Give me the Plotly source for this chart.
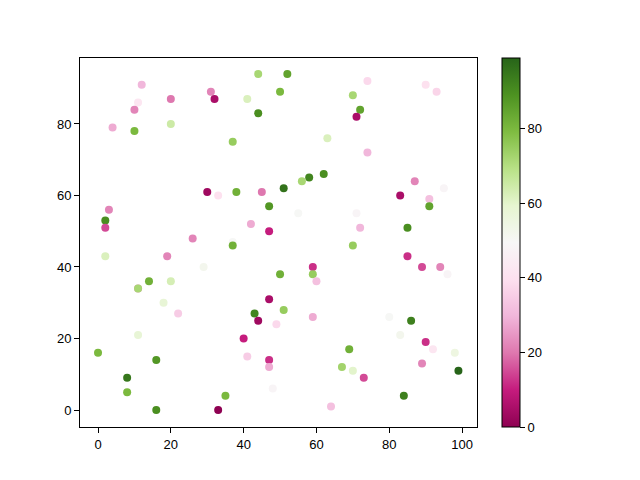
import plotly.graph_objects as go

x_vals = [44, 52, 12, 31, 50, 11, 20, 32, 41, 10, 44, 4, 10, 20, 37, 30, 33, 38, 45, 51,
          47, 3, 2, 2, 42, 47, 26, 37, 37, 2, 19, 29, 50, 14, 20, 11, 11, 47, 18, 22,
          43, 44, 49, 11, 40, 0, 41, 16, 47, 47, 8, 48, 8, 35, 16, 33, 74, 90, 93, 70,
          72, 71, 63, 74, 62, 58, 56, 87, 95, 83, 91, 91, 55, 71, 72, 85, 70, 85, 59, 89,
          94, 96, 59, 60, 51, 59, 80, 86, 83, 90, 92, 98, 69, 67, 70, 89, 99, 73, 84, 64]
y_vals = [94, 94, 91, 89, 89, 86, 87, 87, 87, 84, 83, 79, 78, 80, 75, 61, 60, 61, 61, 62,
          57, 56, 53, 51, 52, 50, 48, 47, 46, 43, 43, 40, 38, 36, 36, 34, 34, 31, 30, 27,
          27, 25, 24, 21, 20, 16, 15, 14, 14, 12, 9, 6, 5, 4, 0, 0, 92, 91, 89, 88,
          84, 82, 76, 72, 66, 65, 64, 64, 62, 60, 59, 57, 55, 55, 51, 51, 46, 43, 40, 40,
          40, 38, 38, 36, 28, 26, 26, 25, 21, 19, 17, 16, 17, 12, 11, 13, 11, 9, 4, 1]
c_vals = [72, 85, 30, 22, 80, 42, 20, 5, 62, 22, 90, 28, 80, 65, 75, 3, 40, 82, 20, 96,
          88, 22, 90, 15, 28, 10, 22, 50, 82, 62, 22, 52, 82, 82, 63, 25, 72, 5, 58, 35,
          92, 3, 38, 58, 10, 80, 35, 88, 12, 28, 95, 48, 80, 80, 90, 0, 38, 40, 37, 72,
          85, 5, 62, 30, 90, 92, 72, 22, 48, 5, 32, 85, 50, 48, 30, 90, 75, 12, 12, 15,
          22, 48, 75, 32, 75, 28, 50, 93, 52, 12, 42, 55, 82, 73, 60, 22, 99, 15, 93, 32]

x_ticks = [0, 20, 40, 60, 80, 100]
y_ticks = [0, 20, 40, 60, 80]
cb_ticks = [0, 20, 40, 60, 80]

fig = go.Figure(go.Scatter(
    x=x_vals, y=y_vals, mode="markers",
    marker=dict(
        size=8, color=c_vals, colorscale="PiYG",
        cmin=min(c_vals), cmax=max(c_vals),
        line=dict(width=0),
        colorbar=dict(
            tickvals=cb_ticks, ticks="outside", ticklen=5, tickcolor="black",
            thickness=18, len=1.0, lenmode="fraction", y=0.5, yanchor="middle",
            x=1.063, xanchor="left", xpad=0, ypad=0,
            outlinewidth=1, outlinecolor="black",
            tickfont=dict(size=13, color="black"),
        ),
    ),
))

axis_common = dict(showline=True, linecolor="black", linewidth=1, mirror=True,
                   ticks="outside", ticklen=5, tickcolor="black", showgrid=False,
                   zeroline=False, tickfont=dict(size=13, color="black"))

fig.update_layout(
    width=640, height=480,
    margin=dict(l=72, r=171, t=50, b=61),
    paper_bgcolor="white", plot_bgcolor="white",
    font=dict(family="Liberation Sans", size=13, color="black"),
    showlegend=False,
    xaxis=dict(range=[-4.95, 104.1], tickvals=x_ticks, **axis_common),
    yaxis=dict(range=[-4.75, 98.45], tickvals=y_ticks, **axis_common),
)

fig.write_html("out.html")
